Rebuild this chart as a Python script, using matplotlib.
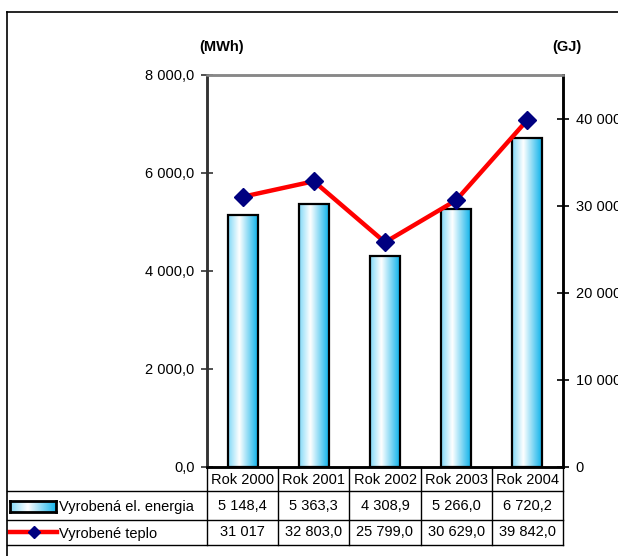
import numpy as np
import matplotlib
matplotlib.use("Agg")
import matplotlib.pyplot as plt
from matplotlib.colors import LinearSegmentedColormap
from matplotlib.lines import Line2D
from matplotlib.ticker import FuncFormatter

# ---- data ----
categories = ["Rok 2000", "Rok 2001", "Rok 2002", "Rok 2003", "Rok 2004"]
energy_mwh = [5148.4, 5363.3, 4308.9, 5266.0, 6720.2]
heat_gj = [31017, 32803.0, 25799.0, 30629.0, 39842.0]
heat_decimals = [0, 1, 1, 1, 1]
energy_decimals = [1, 1, 1, 1, 1]
series_names = ["Vyrobená el. energia", "Vyrobené teplo"]
left_ticks = [0, 2000, 4000, 6000, 8000]
right_ticks = [0, 10000, 20000, 30000, 40000]

plt.rcParams['font.family'] = ['Liberation Sans', 'DejaVu Sans']
FS = 10.5

W, H = 618, 556
fig = plt.figure(figsize=(W / 100, H / 100), dpi=100)

def fx(px):
    return px / W

def fy(py):
    return 1 - py / H

L, R, T, B = 207, 563, 75, 467
ax = fig.add_axes([fx(L), fy(B), fx(R) - fx(L), fy(T) - fy(B)])
ax2 = ax.twinx()

def fmt_num(v, dec):
    s = f"{v:,.{dec}f}"
    return s.replace(",", " ").replace(".", ",")

x = np.arange(len(categories))
cmap = LinearSegmentedColormap.from_list(
    "bar", [(0.0, "#7FD8F7"), (0.38, "#FFFFFF"), (1.0, "#0EB2EA")])
grad = np.linspace(0, 1, 256).reshape(1, -1)

bars = ax.bar(x, energy_mwh, width=0.42, color="none", edgecolor="black",
              linewidth=1.6, zorder=3)
for b in bars:
    x0, y0 = b.get_x(), b.get_y()
    im = ax.imshow(grad, cmap=cmap, extent=[x0, x0 + b.get_width(), y0, y0 + b.get_height()],
                   aspect="auto", zorder=2, interpolation="bilinear")
    im.set_clip_path(b)

ax.set_xlim(-0.5, len(categories) - 0.5)
ax.set_ylim(0, 8000)
ax.set_aspect("auto")
ax.set_yticks(left_ticks)
ax.yaxis.set_major_formatter(FuncFormatter(lambda v, p: fmt_num(v, 1)))
ax.set_xticks([])
ax.tick_params(axis="y", direction="inout", length=8, width=1.2, labelsize=FS,
               pad=5, colors="#333333", labelcolor="black")

ax2.plot(x, heat_gj, color="#FF0000", linewidth=3.2, marker="D", markersize=9.5,
         markerfacecolor="#000080", markeredgecolor="#000080", zorder=5)
ax2.set_ylim(0, 45000)
ax2.set_yticks(right_ticks)
ax2.yaxis.set_major_formatter(FuncFormatter(lambda v, p: fmt_num(v, 0)))
ax2.tick_params(axis="y", direction="inout", length=8, width=1.2, labelsize=FS,
                pad=5, colors="black")

for a in (ax, ax2):
    a.spines["left"].set_color("#333333")
    a.spines["left"].set_linewidth(1.8)
    a.spines["top"].set_color("#888888")
    a.spines["top"].set_linewidth(1.8)
    a.spines["right"].set_color("black")
    a.spines["right"].set_linewidth(1.8)
    a.spines["bottom"].set_color("black")
    a.spines["bottom"].set_linewidth(1.8)
ax2.set_zorder(ax.zorder + 1)
ax2.patch.set_visible(False)

# axis unit labels
fig.text(fx(222), fy(47), "(MWh)", fontsize=FS, fontweight="bold", ha="center", va="center")
fig.text(fx(567), fy(47), "(GJ)", fontsize=FS, fontweight="bold", ha="center", va="center")

# ---- data table ----
row_y = [467, 491, 520, 545]
col_x = [L + (R - L) * i / len(categories) for i in range(len(categories) + 1)]
leg_left = 7
lc = "black"
lw = 1.0
for ry in row_y[1:]:
    fig.add_artist(Line2D([fx(leg_left), fx(R)], [fy(ry)] * 2, color=lc, lw=lw))
for cx in col_x:
    fig.add_artist(Line2D([fx(cx)] * 2, [fy(row_y[0]), fy(row_y[3])], color=lc, lw=lw))

for i, cat in enumerate(categories):
    cx = (col_x[i] + col_x[i + 1]) / 2
    fig.text(fx(cx), fy((row_y[0] + row_y[1]) / 2 + 1), cat, fontsize=FS, ha="center", va="center")
    fig.text(fx(cx), fy((row_y[1] + row_y[2]) / 2), fmt_num(energy_mwh[i], energy_decimals[i]),
             fontsize=FS, ha="center", va="center")
    fig.text(fx(cx), fy((row_y[2] + row_y[3]) / 2), fmt_num(heat_gj[i], heat_decimals[i]),
             fontsize=FS, ha="center", va="center")

# legend keys in table
kax = fig.add_axes([fx(10), fy(512), fx(56) - fx(10), fy(501) - fy(512)])
kax.imshow(grad, cmap=cmap, aspect="auto", interpolation="bilinear")
kax.set_xticks([]); kax.set_yticks([])
for s in kax.spines.values():
    s.set_linewidth(2.0); s.set_color("black")
fig.text(fx(59), fy(507), series_names[0], fontsize=FS, ha="left", va="center")

ky = fy(532)
fig.add_artist(Line2D([fx(10), fx(57)], [ky, ky], color="#FF0000", lw=3.2))
fig.add_artist(Line2D([fx(34)], [ky], marker="D", markersize=6, color="#000080", lw=0))
fig.text(fx(59), fy(534), series_names[1], fontsize=FS, ha="left", va="center")

# figure border (left and top)
fig.add_artist(Line2D([fx(7), fx(7)], [fy(12), 0], color="black", lw=1.2))
fig.add_artist(Line2D([fx(7), 1], [fy(12), fy(12)], color="black", lw=1.2))

fig.savefig("out.png", dpi=100, facecolor="white")
